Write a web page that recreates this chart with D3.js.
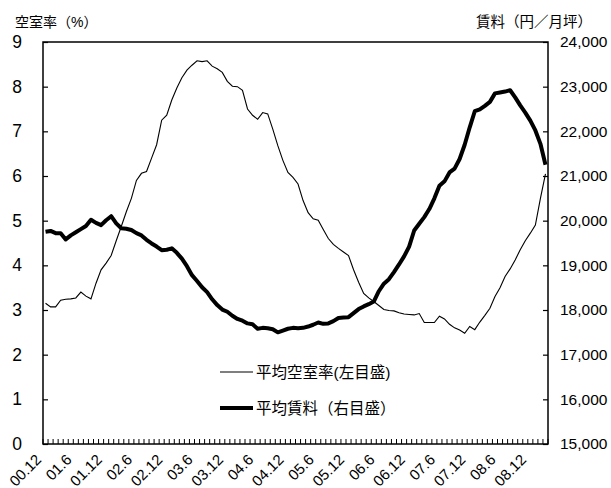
<!DOCTYPE html>
<html><head><meta charset="utf-8">
<script src="https://cdn.jsdelivr.net/npm/d3@7"></script>
<style>
body{margin:0;background:#fff;}
text{font-family:"Liberation Sans","Noto Sans CJK JP",sans-serif;fill:#000;}
</style></head>
<body><svg id="c" width="611" height="488"></svg>
<script>
// months 00.12 .. 09.03
const months = [];
for (let i = 0; i < 100; i++) {
  const m = 12 + i; const y = Math.floor((m - 1) / 12); const mm = ((m - 1) % 12) + 1;
  months.push(String(y).padStart(2, "0") + "." + mm);
}
const vacancy = [3.15,3.07,3.07,3.22,3.24,3.25,3.27,3.40,3.31,3.25,
  3.6,3.9,4.05,4.22,4.55,4.87,5.2,5.5,5.9,6.06,
  6.1,6.4,6.7,7.25,7.36,7.70,7.97,8.2,8.37,8.48,
  8.58,8.56,8.58,8.46,8.40,8.32,8.12,8.01,8.0,7.92,
  7.5,7.36,7.27,7.42,7.39,7.05,6.68,6.35,6.08,5.97,
  5.82,5.45,5.18,5.04,5.01,4.8,4.6,4.47,4.38,4.3,
  4.22,3.9,3.62,3.37,3.27,3.19,3.1,3.01,2.99,2.98,
  2.94,2.91,2.9,2.89,2.92,2.72,2.72,2.72,2.86,2.80,
  2.68,2.6,2.55,2.48,2.63,2.56,2.73,2.88,3.04,3.3,
  3.5,3.75,3.92,4.12,4.35,4.55,4.72,4.9,5.5,6.05];
const rent = [19750,19770,19720,19720,19580,19670,19740,19810,19880,20020,
  19950,19900,20010,20100,19940,19830,19820,19790,19720,19670,
  19570,19490,19420,19340,19350,19380,19280,19150,18980,18780,
  18650,18510,18400,18240,18110,18010,17960,17870,17800,17760,
  17700,17680,17580,17600,17590,17570,17500,17540,17580,17600,
  17590,17600,17630,17670,17720,17690,17700,17750,17820,17830,
  17840,17930,18020,18080,18130,18190,18420,18590,18690,18850,
  19020,19200,19420,19780,19930,20080,20260,20500,20780,20880,
  21080,21165,21380,21700,22090,22450,22490,22570,22660,22850,
  22870,22890,22920,22760,22580,22420,22240,22020,21720,21250];
const leftTicks = [0,1,2,3,4,5,6,7,8,9];
const rightTicks = [15000,16000,17000,18000,19000,20000,21000,22000,23000,24000];
const xLabels = months.filter((d, i) => i % 6 === 0 && i <= 96);
const legendNames = ["平均空室率(左目盛)", "平均賃料（右目盛）"];

const svg = d3.select("#c");
const L = 43, R = 548, T = 42, B = 444;
const x = d3.scalePoint().domain(months).range([L, R]).padding(0.5);
const yL = d3.scaleLinear().domain([0, 9]).range([B, T]);
const yR = d3.scaleLinear().domain([15000, 24000]).range([B, T]);

// frame
svg.append("rect").attr("x", L).attr("y", T).attr("width", R - L).attr("height", B - T)
  .attr("fill", "none").attr("stroke", "#000").attr("stroke-width", 1.5);

// left axis
const gl = svg.append("g").attr("transform", `translate(${L},0)`)
  .call(d3.axisLeft(yL).tickValues(leftTicks).tickSize(-5).tickPadding(21).tickFormat(d3.format("d")));
gl.select(".domain").remove();
gl.selectAll("line").attr("stroke", "#000").attr("stroke-width", 1.2);
gl.selectAll("text").style("font-size", "17.5px");

// right axis
const gr = svg.append("g").attr("transform", `translate(${R},0)`)
  .call(d3.axisRight(yR).tickValues(rightTicks).tickSize(-5).tickPadding(12).tickFormat(d3.format(",")));
gr.select(".domain").remove();
gr.selectAll("line").attr("stroke", "#000").attr("stroke-width", 1.2);
gr.selectAll("text").style("font-size", "15.5px");

// x ticks (monthly, inward)
const step = x.step();
const tickPos = d3.range(months.length + 1).map(i => L + i * step);
svg.append("g").selectAll("line").data(tickPos).join("line")
  .attr("x1", d => d).attr("x2", d => d).attr("y1", B).attr("y2", B - 5)
  .attr("stroke", "#000").attr("stroke-width", 1);

// x labels
svg.append("g").selectAll("text").data(xLabels).join("text")
  .attr("transform", d => `translate(${x(d) - 7},${B + 13}) rotate(-45)`)
  .attr("text-anchor", "end").attr("dy", "0.35em")
  .style("font-size", "15px").text(d => d);

// lines
const lv = d3.line().x((d, i) => x(months[i])).y(d => yL(d));
const lr = d3.line().x((d, i) => x(months[i])).y(d => yR(d));
svg.append("path").attr("d", lv(vacancy)).attr("fill", "none").attr("stroke", "#000").attr("stroke-width", 1.1);
svg.append("path").attr("d", lr(rent)).attr("fill", "none").attr("stroke", "#000").attr("stroke-width", 4).attr("stroke-linejoin", "round");

// axis titles
svg.append("text").attr("x", 15).attr("y", 27).style("font-size", "14px").text("空室率（%）");
svg.append("text").attr("x", 592).attr("y", 27).attr("text-anchor", "end").style("font-size", "14.5px").text("賃料（円／月坪）");

// legend
const lg = svg.append("g");
[[372, 1.1], [408, 4]].forEach((p, i) => {
  lg.append("line").attr("x1", 220).attr("x2", 253).attr("y1", p[0]).attr("y2", p[0])
    .attr("stroke", "#000").attr("stroke-width", p[1]);
  lg.append("text").attr("x", 256).attr("y", p[0]).attr("dy", "0.36em")
    .style("font-size", "15.5px").text(legendNames[i]);
});
</script></body></html>
